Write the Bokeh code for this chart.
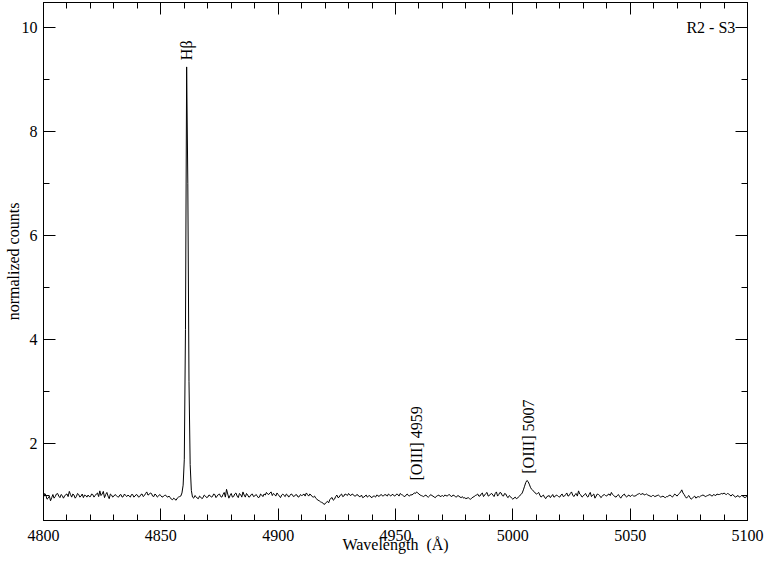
import numpy as np
from bokeh.plotting import figure
from bokeh.models import Range1d, LinearAxis, FixedTicker, Label
from bokeh.embed import file_html
from bokeh.resources import INLINE

# Spectrum sampled at whole Å from 4800 to 5100 Å
wl_start = 4800
wl_end = 5100
flux_whole = [
    0.97, 1.01, 0.95, 0.90, 1.02, 0.98, 1.04, 0.96, 1.00, 0.99,
    1.03, 1.08, 0.97, 1.01, 0.98, 1.02, 0.99, 0.96, 1.00, 1.01,
    0.98, 1.02, 1.00, 1.05, 1.09, 1.03, 0.96, 1.06, 0.94, 1.01,
    0.99, 1.00, 0.97, 1.02, 0.98, 1.00, 1.01, 0.97, 1.02, 0.99,
    1.01, 0.98, 1.03, 1.00, 1.07, 1.02, 1.04, 0.98, 1.01, 0.99,
    1.00, 0.98, 1.01, 0.97, 0.96, 0.92, 0.93, 0.95, 0.98, 1.05,
    1.70, 9.25, 3.20, 1.10, 0.95, 0.98, 0.94, 0.97, 0.96, 0.99,
    0.97, 1.00, 0.98, 1.02, 0.99, 1.03, 0.97, 1.06, 1.12, 0.95,
    1.04, 0.98, 1.05, 0.96, 1.02, 1.07, 0.97, 1.01, 0.98, 1.03,
    0.99, 1.00, 0.97, 1.01, 1.03, 1.06, 1.02, 1.07, 1.04, 0.99,
    1.02, 0.96, 1.03, 0.98, 1.01, 1.00, 1.02, 0.99, 1.01, 0.98,
    1.00, 1.03, 1.05, 0.99, 1.01, 0.97, 0.95, 0.91, 0.88, 0.86,
    0.84, 0.89, 0.92, 0.96, 0.93, 1.01, 0.97, 1.03, 0.99, 1.02,
    1.04, 1.00, 1.02, 0.99, 1.01, 0.98, 0.96, 0.99, 0.97, 1.00,
    0.96, 0.99, 1.01, 0.98, 1.02, 1.00, 1.01, 1.03, 0.99, 1.02,
    1.00, 1.02, 1.04, 1.01, 0.98, 1.03, 0.99, 1.01, 1.05, 1.07,
    1.03, 1.00, 0.98, 1.01, 0.97, 1.02, 0.99, 0.96, 1.00, 0.98,
    1.00, 1.01, 0.99, 1.02, 0.98, 1.00, 0.97, 0.99, 0.96, 0.95,
    0.94, 0.96, 0.93, 0.97, 1.00, 1.03, 0.99, 1.05, 1.01, 1.06,
    1.00, 1.04, 0.98, 1.07, 1.02, 1.05, 0.99, 1.03, 0.96, 0.98,
    0.93, 0.97, 0.95, 1.00, 1.05, 1.18, 1.29, 1.22, 1.12, 1.08,
    1.03, 1.06, 0.97, 1.01, 0.94, 0.99, 0.96, 1.02, 0.98, 1.00,
    0.97, 1.03, 0.99, 1.05, 1.00, 1.07, 0.98, 1.04, 1.09, 1.01,
    0.99, 1.04, 0.97, 1.06, 1.01, 0.95, 1.03, 1.00, 0.98, 1.02,
    0.99, 1.03, 1.06, 1.00, 0.97, 1.02, 0.95, 1.01, 0.99, 1.00,
    0.98, 1.01, 0.99, 1.02, 1.04, 1.03, 1.01, 1.03, 1.00, 0.98,
    1.00, 0.99, 1.01, 0.97, 0.99, 0.96, 0.98, 1.01, 0.97, 1.03,
    0.99, 1.04, 1.11, 1.02, 0.95, 1.00, 0.93, 0.97, 0.95, 0.98,
    0.99, 1.01, 0.98, 1.00, 1.02, 0.99, 1.01, 1.03, 1.02, 1.04,
    1.05, 1.02, 1.03, 0.99, 1.01, 0.97, 1.00, 0.98, 0.99, 0.96,
    0.97,
]
# Samples at the half-Å points 4800.5 ... 5099.5
flux_half = [
    1.04, 0.93, 0.99, 0.96, 0.95, 1.03, 0.99, 1.02, 0.95, 1.02,
    0.98, 1.02, 1.03, 0.95, 1.04, 0.97, 1.03, 1.01, 0.97, 0.98,
    1.03, 0.97, 1.03, 0.98, 1.00, 1.08, 1.02, 0.99, 1.03, 0.97,
    1.02, 0.98, 1.01, 0.97, 1.03, 0.98, 0.99, 1.02, 0.97, 1.02,
    0.97, 1.02, 0.98, 1.04, 1.01, 1.05, 0.99, 1.03, 0.97, 1.02,
    0.97, 1.00, 0.98, 0.99, 0.93, 0.95, 0.91, 0.97, 0.99, 1.20,
    4.20, 7.00, 1.60, 0.97, 1.00, 0.95, 0.99, 0.94, 1.01, 0.96,
    1.01, 0.97, 1.03, 0.96, 1.02, 0.98, 1.02, 0.97, 1.03, 1.00,
    0.97, 1.03, 0.99, 1.04, 0.97, 1.01, 1.04, 0.97, 1.02, 0.98,
    1.02, 0.96, 1.03, 0.98, 1.01, 1.03, 1.05, 1.00, 1.02, 1.05,
    0.99, 1.01, 1.00, 1.03, 0.97, 1.03, 0.98, 1.02, 0.97, 1.02,
    1.01, 0.99, 1.02, 1.03, 0.98, 0.99, 0.93, 0.90, 0.87, 0.83,
    0.87, 0.86, 0.95, 0.91, 0.98, 0.96, 1.01, 0.98, 1.03, 1.00,
    1.01, 1.03, 0.99, 1.02, 0.98, 1.01, 0.97, 1.01, 0.99, 0.97,
    0.99, 0.97, 1.00, 1.01, 0.99, 1.02, 0.99, 1.01, 1.02, 0.99,
    1.03, 0.99, 1.02, 0.99, 1.01, 1.00, 1.02, 1.03, 1.04, 1.05,
    1.01, 0.99, 1.00, 0.98, 0.99, 1.00, 0.97, 0.99, 1.01, 0.99,
    0.98, 1.00, 1.01, 0.99, 1.01, 0.98, 1.00, 0.97, 0.98, 0.96,
    0.95, 0.94, 0.95, 0.98, 1.01, 0.99, 1.03, 0.98, 1.04, 0.99,
    1.03, 1.01, 1.04, 0.99, 1.06, 1.00, 1.04, 0.98, 1.00, 0.95,
    0.95, 0.94, 0.98, 1.02, 1.11, 1.25, 1.27, 1.16, 1.10, 1.05,
    1.04, 1.01, 0.99, 0.97, 0.98, 1.00, 0.99, 0.97, 1.01, 0.98,
    1.01, 0.98, 1.02, 0.99, 1.04, 1.01, 1.02, 0.99, 1.03, 0.97,
    1.02, 0.99, 1.02, 0.98, 1.03, 0.99, 1.02, 0.96, 1.01, 1.00,
    1.02, 1.00, 1.02, 0.98, 1.00, 0.98, 0.99, 1.03, 0.97, 1.01,
    1.00, 0.99, 1.00, 1.03, 1.02, 1.04, 1.02, 1.01, 0.99, 1.00,
    0.98, 1.00, 0.99, 0.98, 0.97, 0.98, 1.00, 0.99, 1.00, 1.01,
    1.02, 1.07, 1.05, 0.98, 0.98, 0.96, 0.95, 0.99, 0.97, 0.97,
    1.00, 1.00, 0.99, 1.01, 1.00, 1.02, 1.00, 1.02, 1.03, 1.03,
    1.03, 1.04, 1.01, 1.02, 0.98, 0.99, 0.97, 1.00, 0.97, 0.98,
]

x_ticks = [4800, 4850, 4900, 4950, 5000, 5050, 5100]
x_minor = [4810, 4820, 4830, 4840, 4860, 4870, 4880, 4890, 4910, 4920, 4930, 4940,
           4960, 4970, 4980, 4990, 5010, 5020, 5030, 5040, 5060, 5070, 5080, 5090]
y_ticks = [2, 4, 6, 8, 10]
y_minor = [1, 3, 5, 7, 9]

x_title = "Wavelength\u00a0 (Å)"
y_title = "normalized counts"
lines = [("Hβ", 4860.8, 9.38), ("[OIII] 4959", 4958.9, 1.29), ("[OIII] 5007", 5006.5, 1.42)]
panel_label = "R2 - S3"

wl_whole = np.arange(wl_start, wl_end + 1, 1.0)
wl_half = np.arange(wl_start + 0.5, wl_end, 1.0)
assert len(wl_whole) == len(flux_whole)
assert len(wl_half) == len(flux_half)
wl = np.concatenate([wl_whole, wl_half])
fl = np.concatenate([np.array(flux_whole), np.array(flux_half)])
order = np.argsort(wl)
wl = wl[order]
fl = fl[order]

FONT = "Liberation Serif"
X0, X1 = 4800, 5100
Y0, Y1 = 0.52, 10.49

p = figure(width=765, height=567, x_range=Range1d(X0, X1), y_range=Range1d(Y0, Y1),
           output_backend="svg", toolbar_location=None,
           min_border_left=43, min_border_right=18, min_border_top=2, min_border_bottom=47,
           x_axis_location=None, y_axis_location=None)
p.xgrid.visible = False
p.ygrid.visible = False
p.outline_line_color = "black"
p.outline_line_width = 1
p.background_fill_color = "white"
p.border_fill_color = "white"

p.line(wl, fl, line_color="black", line_width=1)


def style(ax, labels=True, tick_standoff=6, title_standoff=0):
    ax.axis_line_color = "black"
    ax.axis_line_width = 1
    ax.major_tick_line_color = "black"
    ax.minor_tick_line_color = "black"
    ax.major_tick_in = 12
    ax.major_tick_out = 0
    ax.minor_tick_in = 6
    ax.minor_tick_out = 0
    if labels:
        ax.major_label_text_font = FONT
        ax.major_label_text_font_size = "16px"
        ax.major_label_text_color = "black"
        ax.major_label_standoff = tick_standoff
        ax.axis_label_text_font = FONT
        ax.axis_label_text_font_size = "16px"
        ax.axis_label_text_font_style = "normal"
        ax.axis_label_text_color = "black"
        ax.axis_label_standoff = title_standoff
    else:
        ax.major_label_text_color = None
        ax.major_label_text_font_size = "1px"
        ax.major_label_standoff = 0


xt = FixedTicker(ticks=x_ticks, minor_ticks=x_minor)
yt = FixedTicker(ticks=y_ticks, minor_ticks=y_minor)

xb = LinearAxis(ticker=xt, axis_label=x_title)
style(xb, tick_standoff=9, title_standoff=-8)
xb.axis_label_text_baseline = "top"
p.add_layout(xb, "below")
xa = LinearAxis(ticker=xt)
style(xa, labels=False)
p.add_layout(xa, "above")

yl = LinearAxis(ticker=yt, axis_label=y_title)
style(yl, tick_standoff=6, title_standoff=-3)
p.add_layout(yl, "left")
yr = LinearAxis(ticker=yt)
style(yr, labels=False)
p.add_layout(yr, "right")

for txt, lx, ly in lines:
    p.add_layout(Label(x=lx, y=ly, text=txt, angle=np.pi / 2, text_align="left",
                       text_baseline="middle", text_font=FONT, text_font_size="16px",
                       text_color="black"))

p.add_layout(Label(x=5094.8, y=10, text=panel_label, text_align="right", text_baseline="middle",
                   text_font=FONT, text_font_size="16px", text_color="black"))

open("out.html", "w").write(file_html(p, INLINE))
